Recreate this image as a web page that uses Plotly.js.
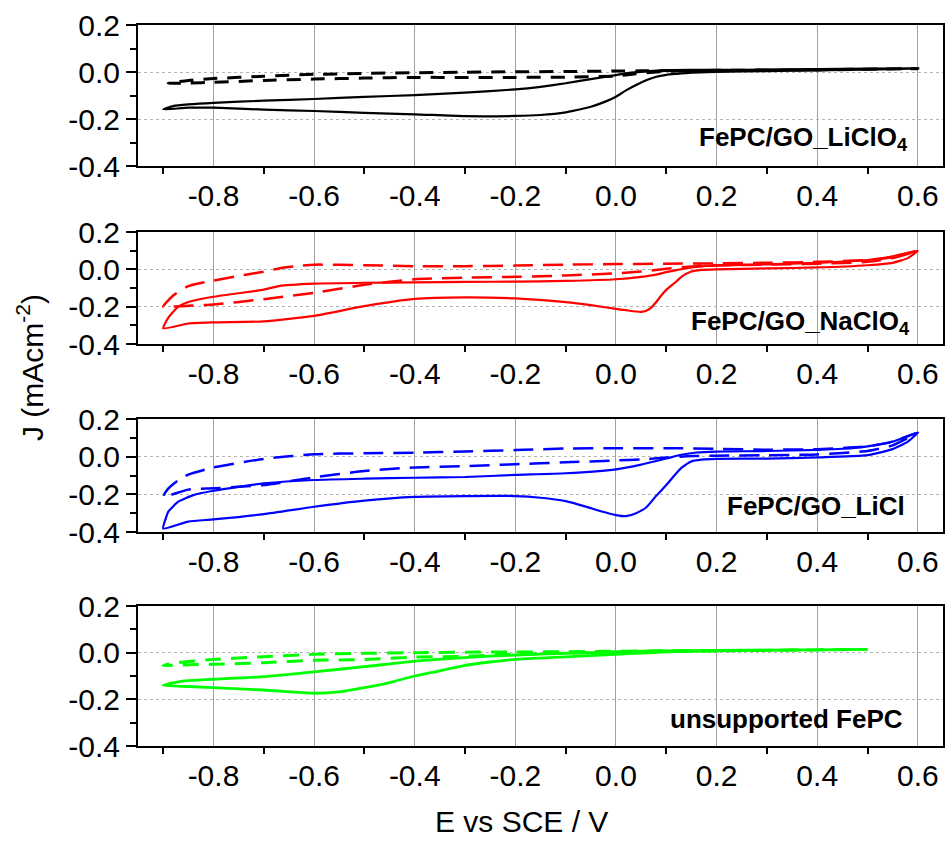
<!DOCTYPE html>
<html>
<head>
<meta charset="utf-8">
<script src="https://cdn.plot.ly/plotly-3.0.1.min.js"></script>
<style>html,body{margin:0;padding:0;background:#fff}#chart{width:945px;height:841px}</style>
</head>
<body>
<div id="chart"></div>
<script>
// ---------- Panel 1: FePC/GO_LiClO4 (black) ----------
const p1SolidX = [0.6,0.5,0.4,0.3,0.2,0.15,0.12,0.1,0.08,0.06,0.04,0.02,0.0,-0.02,-0.05,-0.08,-0.1,-0.15,-0.2,-0.3,-0.4,-0.5,-0.6,-0.7,-0.8,-0.85,-0.9,
  -0.88,-0.85,-0.8,-0.7,-0.6,-0.5,-0.4,-0.3,-0.2,-0.15,-0.1,-0.05,0.0,0.03,0.06,0.1,0.15,0.2,0.3,0.4,0.5,0.6];
const p1SolidY = [0.014,0.01,0.007,0.004,0.0,-0.003,-0.008,-0.012,-0.02,-0.035,-0.055,-0.078,-0.105,-0.125,-0.148,-0.163,-0.172,-0.183,-0.187,-0.188,-0.18,-0.174,-0.166,-0.16,-0.152,-0.152,-0.159,
  -0.145,-0.138,-0.131,-0.122,-0.115,-0.106,-0.098,-0.088,-0.074,-0.063,-0.048,-0.03,-0.013,-0.003,0.003,0.008,0.009,0.009,0.01,0.012,0.014,0.016];
const p1DashX = [0.6,0.4,0.2,0.1,0.05,0.0,-0.1,-0.2,-0.3,-0.4,-0.5,-0.6,-0.7,-0.8,-0.85,-0.89,
  -0.85,-0.8,-0.7,-0.6,-0.5,-0.4,-0.3,-0.2,-0.1,0.0,0.04,0.08,0.12,0.2,0.4,0.6];
const p1DashY = [0.014,0.01,0.007,0.006,0.005,0.004,0.002,0.001,-0.001,-0.003,-0.006,-0.01,-0.018,-0.028,-0.036,-0.048,
  -0.047,-0.044,-0.036,-0.03,-0.026,-0.023,-0.023,-0.023,-0.022,-0.017,-0.008,0.0,0.004,0.006,0.009,0.014];

// ---------- Panel 2: FePC/GO_NaClO4 (red) ----------
const p2SolidX = [0.6,0.58,0.55,0.5,0.4,0.3,0.2,0.17,0.15,0.13,0.12,0.1,0.09,0.08,0.07,0.06,0.05,0.04,0.02,0.0,-0.05,-0.1,-0.2,-0.3,-0.4,-0.5,-0.6,-0.7,-0.8,-0.85,-0.9,
  -0.89,-0.87,-0.85,-0.8,-0.75,-0.7,-0.67,-0.6,-0.5,-0.4,-0.3,-0.2,-0.1,0.0,0.05,0.08,0.1,0.12,0.15,0.18,0.2,0.3,0.4,0.5,0.55,0.6];
const p2SolidY = [0.1,0.06,0.035,0.022,0.01,0.005,0.0,-0.003,-0.012,-0.04,-0.065,-0.11,-0.14,-0.175,-0.205,-0.222,-0.228,-0.226,-0.219,-0.212,-0.192,-0.176,-0.156,-0.15,-0.158,-0.197,-0.249,-0.279,-0.284,-0.29,-0.316,
  -0.26,-0.2,-0.175,-0.147,-0.128,-0.109,-0.09,-0.077,-0.072,-0.07,-0.067,-0.066,-0.062,-0.053,-0.04,-0.028,-0.015,-0.004,0.01,0.018,0.02,0.027,0.035,0.05,0.07,0.1];
const p2DashX = [0.6,0.55,0.5,0.4,0.3,0.2,0.1,0.0,-0.1,-0.2,-0.3,-0.4,-0.5,-0.6,-0.64,-0.67,-0.7,-0.75,-0.8,-0.85,-0.88,-0.9,
  -0.87,-0.85,-0.8,-0.7,-0.6,-0.5,-0.4,-0.3,-0.2,-0.1,0.0,0.05,0.1,0.15,0.2,0.3,0.4,0.5,0.55,0.6];
const p2DashY = [0.1,0.065,0.05,0.04,0.035,0.032,0.03,0.028,0.025,0.02,0.017,0.017,0.022,0.025,0.015,0.005,-0.013,-0.035,-0.06,-0.09,-0.14,-0.2,
  -0.198,-0.195,-0.188,-0.16,-0.126,-0.083,-0.053,-0.045,-0.04,-0.033,-0.021,-0.012,0.003,0.015,0.022,0.025,0.03,0.04,0.06,0.1];

// ---------- Panel 3: FePC/GO_LiCl (blue) ----------
const p3SolidX = [0.6,0.58,0.55,0.5,0.4,0.3,0.2,0.17,0.15,0.13,0.12,0.1,0.08,0.06,0.04,0.02,0.0,-0.03,-0.06,-0.1,-0.15,-0.2,-0.3,-0.4,-0.5,-0.6,-0.7,-0.8,-0.85,-0.9,
  -0.895,-0.89,-0.87,-0.84,-0.8,-0.75,-0.7,-0.6,-0.5,-0.4,-0.3,-0.2,-0.1,0.0,0.05,0.1,0.13,0.16,0.2,0.3,0.4,0.45,0.5,0.55,0.6];
const p3SolidY = [0.128,0.08,0.04,0.008,-0.004,-0.01,-0.012,-0.016,-0.025,-0.06,-0.088,-0.15,-0.208,-0.27,-0.3,-0.316,-0.31,-0.29,-0.265,-0.236,-0.218,-0.209,-0.209,-0.213,-0.233,-0.266,-0.305,-0.333,-0.345,-0.381,
  -0.33,-0.293,-0.239,-0.204,-0.181,-0.16,-0.142,-0.124,-0.117,-0.112,-0.108,-0.097,-0.088,-0.067,-0.042,-0.01,0.01,0.022,0.027,0.03,0.036,0.042,0.055,0.08,0.128];
const p3DashX = [0.6,0.55,0.5,0.4,0.3,0.2,0.1,0.0,-0.1,-0.2,-0.3,-0.4,-0.5,-0.6,-0.7,-0.8,-0.85,-0.87,-0.89,-0.9,
  -0.85,-0.8,-0.7,-0.6,-0.5,-0.4,-0.3,-0.2,-0.1,0.0,0.05,0.1,0.15,0.2,0.3,0.4,0.5,0.55,0.6];
const p3DashY = [0.128,0.08,0.055,0.04,0.037,0.042,0.045,0.045,0.043,0.035,0.028,0.021,0.018,0.013,-0.012,-0.057,-0.095,-0.125,-0.17,-0.213,
  -0.175,-0.168,-0.151,-0.11,-0.076,-0.057,-0.05,-0.04,-0.03,-0.02,-0.015,-0.005,0.003,0.005,0.008,0.012,0.03,0.06,0.128];

// ---------- Panel 4: unsupported FePC (green) ----------
const p4SolidX = [0.5,0.4,0.3,0.2,0.1,0.05,0.0,-0.1,-0.2,-0.25,-0.3,-0.35,-0.4,-0.45,-0.5,-0.55,-0.6,-0.7,-0.8,-0.85,-0.9,
  -0.87,-0.85,-0.8,-0.7,-0.6,-0.5,-0.4,-0.3,-0.2,-0.1,0.0,0.1,0.2,0.3,0.4,0.5];
const p4SolidY = [0.014,0.012,0.01,0.008,0.003,-0.002,-0.007,-0.018,-0.029,-0.04,-0.054,-0.078,-0.1,-0.128,-0.15,-0.168,-0.174,-0.16,-0.15,-0.145,-0.14,
  -0.125,-0.12,-0.114,-0.103,-0.082,-0.06,-0.036,-0.021,-0.01,-0.003,0.004,0.008,0.01,0.011,0.012,0.014];
const p4DashX = [0.5,0.3,0.1,0.0,-0.1,-0.2,-0.3,-0.4,-0.5,-0.6,-0.7,-0.8,-0.85,-0.88,-0.9,
  -0.85,-0.8,-0.7,-0.6,-0.5,-0.4,-0.3,-0.2,-0.1,0.0,0.1,0.3,0.5];
const p4DashY = [0.014,0.01,0.008,0.006,0.004,0.003,0.002,0.0,-0.003,-0.007,-0.017,-0.029,-0.038,-0.045,-0.055,
  -0.052,-0.05,-0.043,-0.033,-0.029,-0.019,-0.016,-0.007,-0.002,0.002,0.006,0.01,0.014];

// ---------- Labels ----------
const panelLabels = ['FePC/GO_LiClO<sub>4</sub>','FePC/GO_NaClO<sub>4</sub>','FePC/GO_LiCl','unsupported FePC'];
const xTickVals = [-0.8,-0.6,-0.4,-0.2,0.0,0.2,0.4,0.6];
const xTickText = ['-0.8','-0.6','-0.4','-0.2','0.0','0.2','0.4','0.6'];
const xMinorVals = [-0.9,-0.7,-0.5,-0.3,-0.1,0.1,0.3,0.5];
const yTickVals = [-0.4,-0.2,0.0,0.2];
const yTickText = ['-0.4','-0.2','0.0','0.2'];
const yMinorVals = [-0.3,-0.1,0.1];
const xTitle = 'E vs SCE / V';
const yTitle = 'J (mAcm<sup>-2</sup>)';

const FONT = 'Liberation Sans, Arial, sans-serif';
const W = 945, H = 841;
const plotLeft = 138, plotRight = 943;
const panelPx = [[25,166],[232,344],[419,532],[606,746]];
const colors = ['#000000','#ff0000','#0000ff','#00ff00'];
const dashStyles = ['14px,10px','20px,10px','20px,10px','16px,10px'];
const dashWidths = [3, 2.5, 2.5, 3];
const solidWidths = [2.2, 2.2, 2.2, 2.8];
const solids = [[p1SolidX,p1SolidY],[p2SolidX,p2SolidY],[p3SolidX,p3SolidY],[p4SolidX,p4SolidY]];
const dashes = [[p1DashX,p1DashY],[p2DashX,p2DashY],[p3DashX,p3DashY],[p4DashX,p4DashY]];
const labelPos = [[0.584,-0.284],[0.588,-0.286],[0.578,-0.261],[0.574,-0.284]];

const traces = [];
const layout = {
  width: W, height: H,
  margin: {l:0,r:0,t:0,b:0},
  paper_bgcolor: '#ffffff', plot_bgcolor: '#ffffff',
  showlegend: false,
  font: {family: FONT, size: 30, color: '#000'},
  annotations: []
};

for (let i = 0; i < 4; i++) {
  const n = i === 0 ? '' : String(i+1);
  const xa = 'x' + n, ya = 'y' + n;
  traces.push({x: dashes[i][0], y: dashes[i][1], xaxis: xa, yaxis: ya, type: 'scatter', mode: 'lines',
    line: {color: colors[i], width: dashWidths[i], dash: dashStyles[i], shape: 'spline', smoothing: 0.5}, hoverinfo: 'skip'});
  traces.push({x: solids[i][0], y: solids[i][1], xaxis: xa, yaxis: ya, type: 'scatter', mode: 'lines',
    line: {color: colors[i], width: solidWidths[i], shape: 'spline', smoothing: 0.5}, hoverinfo: 'skip'});
  const top = panelPx[i][0], bot = panelPx[i][1];
  // labelled axis: carries tick labels, grid, frame and minor ticks
  layout['xaxis' + n] = {
    domain: [plotLeft / W, plotRight / W], anchor: ya, range: [-0.95, 0.65],
    tickmode: 'array', tickvals: xTickVals, ticktext: xTickText,
    ticks: '', ticklabelstandoff: 2,
    minor: {tickmode: 'array', tickvals: xMinorVals, ticks: 'outside', ticklen: 6, tickwidth: 2, tickcolor: '#000', showgrid: false},
    showgrid: true, gridcolor: '#a0a0a0', gridwidth: 1,
    showline: true, linecolor: '#000', linewidth: 2, mirror: true,
    zeroline: false, automargin: false,
    tickfont: {family: FONT, size: 30, color: '#000'}
  };
  // overlay axis: major tick marks only
  const on = String(i + 5);
  layout['xaxis' + on] = {
    overlaying: xa, anchor: ya, side: 'bottom', range: [-0.95, 0.65],
    tickmode: 'array', tickvals: xTickVals, ticks: 'outside', ticklen: 10, tickwidth: 2, tickcolor: '#000',
    showticklabels: false, showgrid: false, showline: false, zeroline: false, automargin: false
  };
  layout['yaxis' + n] = {
    domain: [1 - bot / H, 1 - top / H], anchor: xa, range: [-0.4, 0.2],
    tickmode: 'array', tickvals: yTickVals, ticktext: yTickText,
    ticks: 'outside', ticklen: 10, tickwidth: 2, tickcolor: '#000',
    minor: {tickmode: 'array', tickvals: yMinorVals, ticks: 'outside', ticklen: 6, tickwidth: 2, tickcolor: '#000', showgrid: false},
    showgrid: true, gridcolor: '#b4b4b4', gridwidth: 1, griddash: '3px,3px',
    showline: true, linecolor: '#000', linewidth: 2, mirror: true,
    zeroline: false, automargin: false,
    tickfont: {family: FONT, size: 30, color: '#000'}
  };
  layout.annotations.push({
    text: panelLabels[i], xref: xa, yref: ya, x: labelPos[i][0], y: labelPos[i][1],
    xanchor: 'right', yanchor: 'middle', showarrow: false,
    font: {family: FONT, size: 26, color: '#000', weight: 'bold'}
  });
}

layout.annotations.push({
  text: xTitle, xref: 'paper', yref: 'paper', x: 521 / W, y: 1 - 821 / H,
  xanchor: 'center', yanchor: 'middle', showarrow: false,
  font: {family: FONT, size: 30, color: '#000'}
});
layout.annotations.push({
  text: yTitle, xref: 'paper', yref: 'paper', x: 30 / W, y: 1 - 368 / H,
  xanchor: 'center', yanchor: 'middle', textangle: -90, showarrow: false,
  font: {family: FONT, size: 30, color: '#000'}
});

Plotly.newPlot('chart', traces, layout, {staticPlot: true, displayModeBar: false});
</script>
</body>
</html>
